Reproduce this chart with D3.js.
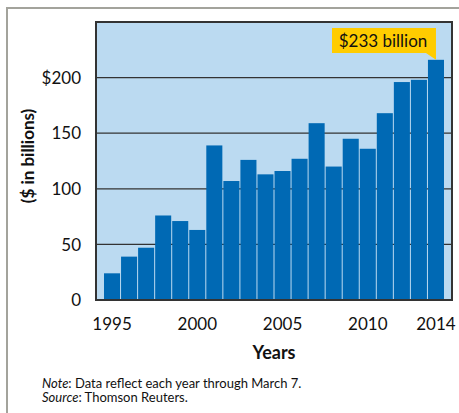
<!DOCTYPE html>
<html>
<head>
<meta charset="utf-8">
<script src="https://cdn.jsdelivr.net/npm/d3@7"></script>
<style>
  body { margin: 0; background: #fff; }
  text { font-family: Lato, "Open Sans", sans-serif; fill: #111; }
</style>
</head>
<body>
<div id="chart"></div>
<script>
var years = [1995, 1996, 1997, 1998, 1999, 2000, 2001, 2002, 2003, 2004,
             2005, 2006, 2007, 2008, 2009, 2010, 2011, 2012, 2013, 2014];
var values = [24, 39, 47, 76, 71, 63, 139, 107, 126, 113,
              116, 127, 159, 120, 145, 136, 168, 196, 198, 216];
var yTicks = [0, 50, 100, 150, 200];
var xTicks = [1995, 2000, 2005, 2010, 2014];
var calloutText = "$233 billion";

var width = 459, height = 413;
var plot = {left: 96, top: 22, right: 452, bottom: 300};

var svg = d3.select("#chart").append("svg")
    .attr("width", width).attr("height", height);

// outer frame (left and top edges visible)
svg.append("path")
    .attr("d", "M7," + height + "V8H" + (width + 2))
    .attr("fill", "none").attr("stroke", "#a3a39c").attr("stroke-width", 2);

var x = d3.scaleBand().domain(years)
    .range([plot.left + 8, plot.right - 8]).paddingInner(1 / 17);
var y = d3.scaleLinear().domain([0, 250]).range([plot.bottom, plot.top]);

svg.append("rect")
    .attr("x", plot.left).attr("y", plot.top)
    .attr("width", plot.right - plot.left).attr("height", plot.bottom - plot.top)
    .attr("fill", "#bbdaf1");

// gridlines
svg.append("g").selectAll("line").data(yTicks.slice(1)).join("line")
    .attr("x1", plot.left).attr("x2", plot.right)
    .attr("y1", function(d) { return y(d); }).attr("y2", function(d) { return y(d); })
    .attr("stroke", "#333").attr("stroke-width", 1.2);

svg.append("g").selectAll("rect").data(values).join("rect")
    .attr("x", function(d, i) { return x(years[i]); })
    .attr("y", function(d) { return y(d); })
    .attr("width", x.bandwidth())
    .attr("height", function(d) { return y(0) - y(d); })
    .attr("fill", "#0069b4");

svg.append("rect")
    .attr("x", plot.left).attr("y", plot.top)
    .attr("width", plot.right - plot.left).attr("height", plot.bottom - plot.top)
    .attr("fill", "none").attr("stroke", "#333").attr("stroke-width", 2);

// y tick labels
svg.append("g").selectAll("text").data(yTicks).join("text")
    .attr("x", 81).attr("y", function(d) { return y(d); })
    .attr("dy", "0.36em").attr("text-anchor", "end")
    .attr("font-size", 17)
    .text(function(d) { return d === 200 ? "$200" : d; });

// x tick labels
svg.append("g").selectAll("text").data(xTicks).join("text")
    .attr("x", function(d) { return x(d) + x.bandwidth() / 2; })
    .attr("y", 330).attr("text-anchor", "middle")
    .attr("font-size", 17)
    .text(function(d) { return d; });

svg.append("text")
    .attr("x", (plot.left + plot.right) / 2).attr("y", 359)
    .attr("text-anchor", "middle").attr("font-size", 18).attr("font-weight", "bold")
    .text("Years");

svg.append("text")
    .attr("transform", "translate(34,156) rotate(-90)")
    .attr("text-anchor", "middle").attr("font-size", 17).attr("font-weight", "bold")
    .text("($ in billions)");

// callout on the last bar
var last = years[years.length - 1];
var cx = x(last) + x.bandwidth() / 2;
var cy = y(values[values.length - 1]);
svg.append("path")
    .attr("d", "M332,28H" + cx + "V" + cy + "L" + (cx - 10) + ",53H332Z")
    .attr("fill", "#ffcc00");
svg.append("text")
    .attr("x", 383).attr("y", 47).attr("text-anchor", "middle")
    .attr("font-size", 17)
    .text(calloutText);

var note = svg.append("text").attr("x", 42).attr("y", 388).attr("font-size", 13);
note.append("tspan").attr("font-style", "italic").text("Note");
note.append("tspan").text(": Data reflect each year through March 7.");
var src = svg.append("text").attr("x", 42).attr("y", 402).attr("font-size", 13);
src.append("tspan").attr("font-style", "italic").text("Source");
src.append("tspan").text(": Thomson Reuters.");
</script>
</body>
</html>
